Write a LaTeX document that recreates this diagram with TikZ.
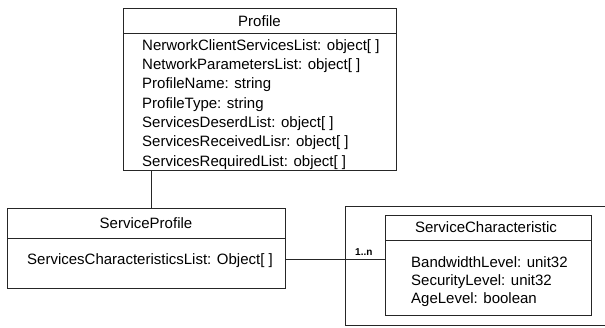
\documentclass[tikz,border=0pt]{standalone}
\usepackage{fontspec}
\setmainfont{Liberation Sans}
\begin{document}
\begin{tikzpicture}[x=1pt,y=-1pt,
  umlbox/.style={draw=black!85,line width=0.9pt,rectangle,inner sep=0pt,anchor=north west},
  rule/.style={draw=black!85,line width=0.9pt},
  link/.style={draw=black!85,line width=0.9pt},
  title/.style={inner sep=0pt,font=\fontsize{15}{17}\selectfont},
  attr/.style={inner sep=0pt,anchor=base west,font=\fontsize{15}{17}\selectfont},
  mult/.style={inner sep=0pt,anchor=base west,font=\fontsize{10}{12}\selectfont\bfseries}]
\useasboundingbox (0,0) rectangle (605,327);

% Profile class
\node[umlbox,minimum width=273pt,minimum height=162pt] (profile) at (123,8) {};
\draw[rule] (profile.west |- 0,33) -- (profile.east |- 0,33);
\node[title] (profiletitle) at (259.5,21) {Profile};
\node[attr] (p1) at (142,50)  {NerworkClientServicesList: object[ ]};
\node[attr] (p2) at (142,69)  {NetworkParametersList: object[ ]};
\node[attr] (p3) at (142,88.5)  {ProfileName: string};
\node[attr] (p4) at (142,108) {ProfileType: string};
\node[attr] (p5) at (142,127) {ServicesDeserdList: object[ ]};
\node[attr] (p6) at (142,146.5) {ServicesReceivedLisr: object[ ]};
\node[attr] (p7) at (142,166) {ServicesRequiredList: object[ ]};

% ServiceProfile class
\node[umlbox,minimum width=278pt,minimum height=80pt] (sp) at (7,208) {};
\draw[rule] (sp.west |- 0,238) -- (sp.east |- 0,238);
\node[title] (sptitle) at (146,223.5) {ServiceProfile};
\node[attr] (s1) at (27,264.5) {ServicesCharacteristicsList: Object[ ]};

% ServiceCharacteristic class inside its enclosing frame
\draw[rule] (605,206) -- (345,206) -- (345,325) -- (605,325);
\node[umlbox,minimum width=206pt,minimum height=100pt] (sc) at (385,215) {};
\draw[rule] (sc.west |- 0,240) -- (sc.east |- 0,240);
\node[title] (sctitle) at (486,227.5) {ServiceCharacteristic};
\node[attr] (c1) at (411,267) {BandwidthLevel: unit32};
\node[attr] (c2) at (411,285) {SecurityLevel: unit32};
\node[attr] (c3) at (411,303) {AgeLevel: boolean};

% connectors
\coordinate (tie) at (151,190);
\draw[link] (tie |- profile.south) -- (tie |- sp.north);
\coordinate (junction) at (345,259);
\draw[link] (sp.east |- junction) -- (sc.west |- junction);
\node[mult] (multiplicity) at (355,255) {1..n};
\end{tikzpicture}
\end{document}
